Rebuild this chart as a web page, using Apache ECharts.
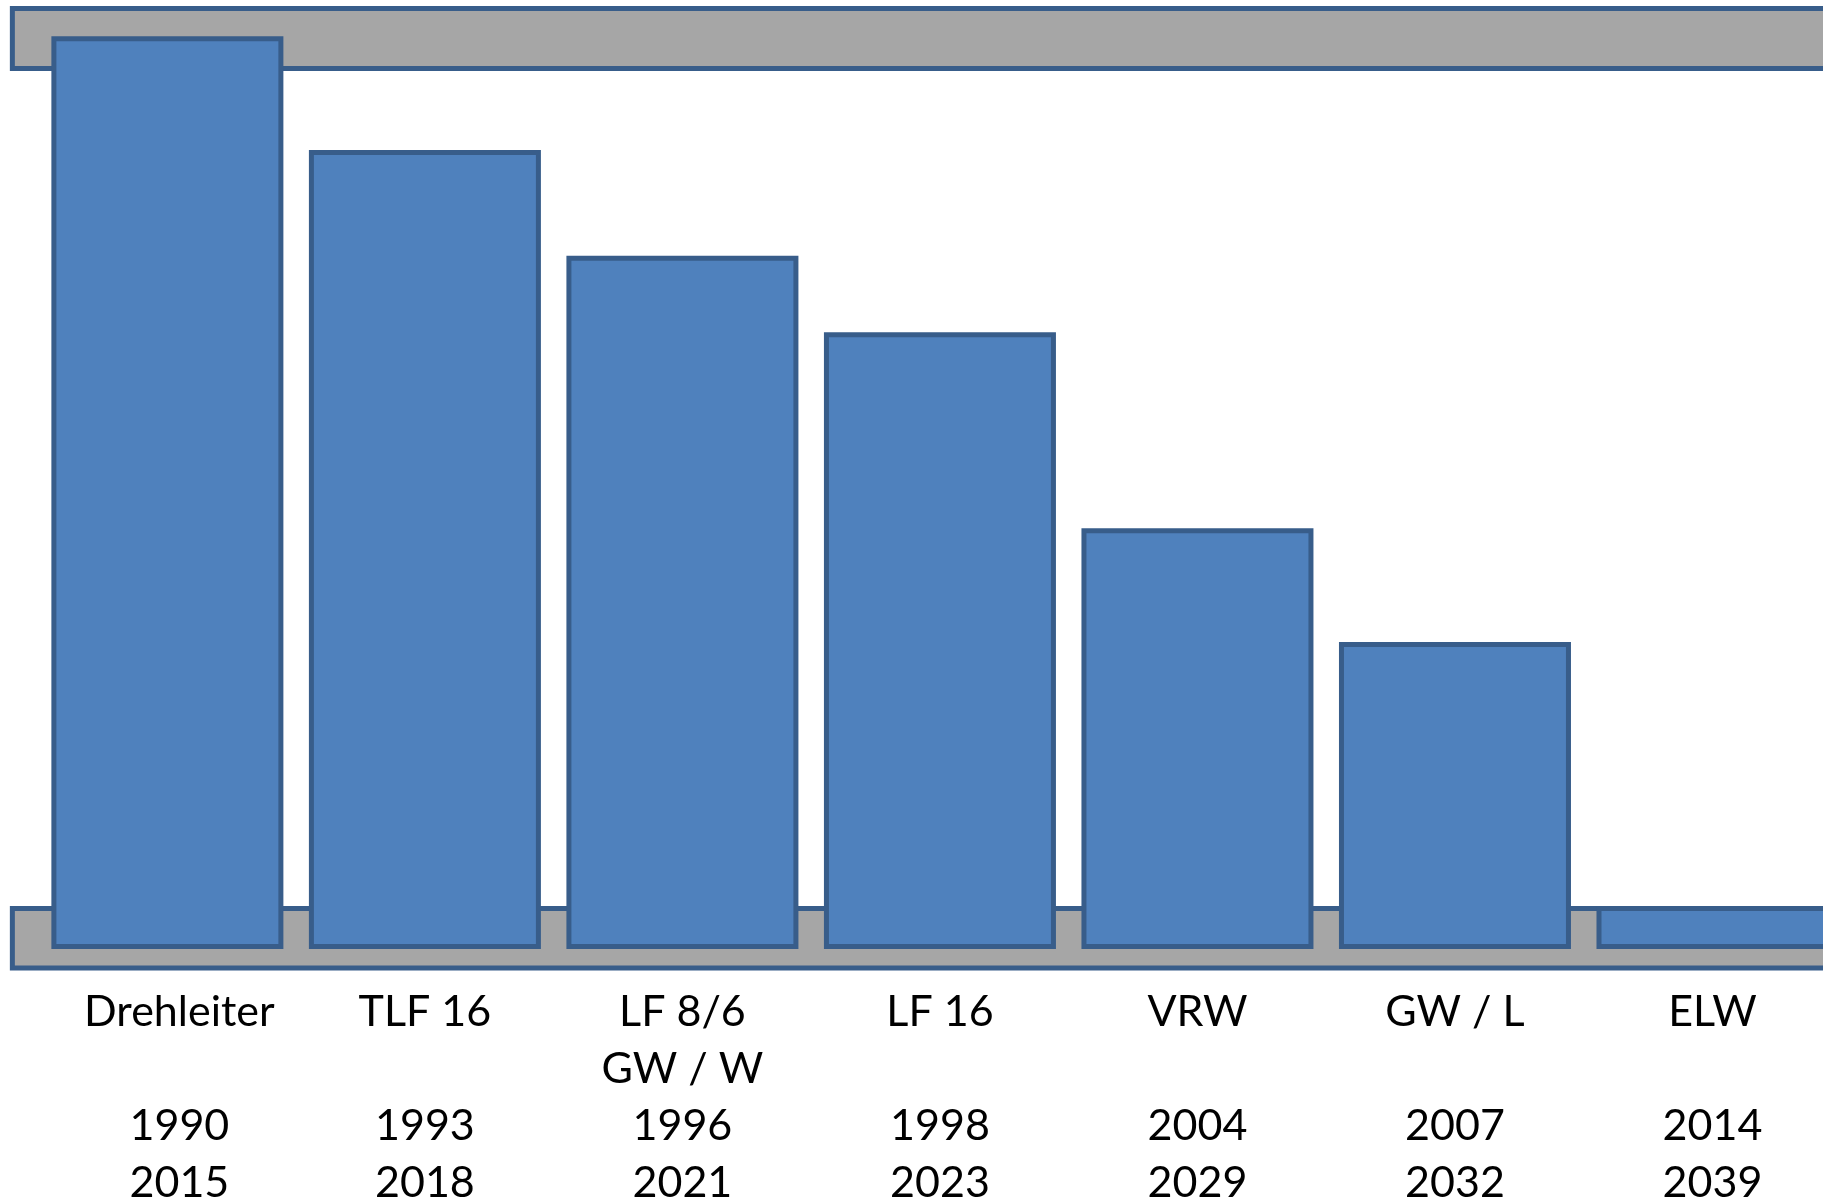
<!DOCTYPE html>
<html>
<head>
<meta charset="utf-8">
<style>
html,body{margin:0;padding:0;background:#fff;overflow:hidden;}
#c{width:1823px;height:1202px;}
</style>
<script src="https://cdn.jsdelivr.net/npm/echarts@6/dist/echarts.min.js"></script>
</head>
<body>
<div id="c"></div>
<script>
// Vehicle names, year built and planned replacement year
var categories = ['Drehleiter', 'TLF 16', 'LF 8/6\nGW / W', 'LF 16', 'VRW', 'GW / L', 'ELW'];
var yearBuilt = [1990, 1993, 1996, 1998, 2004, 2007, 2014];
var yearReplace = [2015, 2018, 2021, 2023, 2029, 2032, 2039];
// Bar heights (age in years)
var values = [25.01, 21.89, 18.99, 16.9, 11.53, 8.41, 1.18];
// Gray bands (value ranges on the vertical axis)
var topBand = [24.12, 25.77];
var bottomBand = [-0.52, 1.11];
var bandX = [-0.602, 6.6];

var positions = categories.map(function (c, i) { return i; });

var chart = echarts.init(document.getElementById('c'));
chart.setOption({
  animation: false,
  backgroundColor: '#ffffff',
  grid: { left: 0, right: -44, top: 0, bottom: 216.5, containLabel: false, outerBoundsMode: 'none' },
  xAxis: {
    type: 'value',
    min: -0.65,
    max: 6.6,
    axisLine: { show: false },
    axisTick: { show: false },
    splitLine: { show: false },
    axisLabel: {
      customValues: positions,
      margin: -2,
      color: '#000000',
      fontFamily: 'Lato',
      fontSize: 43,
      lineHeight: 57,
      align: 'center',
      verticalAlign: 'top',
      hideOverlap: false,
      formatter: function (v) {
        var i = Math.round(v);
        var name = categories[i];
        var lines = name.indexOf('\n') >= 0 ? name.split('\n') : [name, ''];
        lines.push(String(yearBuilt[i]));
        lines.push(String(yearReplace[i]));
        if (i === 0) {
          return lines.map(function (l) { return l ? '{s|' + l + '}' : ''; }).join('\n');
        }
        return lines.join('\n');
      },
      rich: {
        s: { fontFamily: 'Lato', fontSize: 43, lineHeight: 57, color: '#000000', padding: [0, 0, 0, 24] }
      }
    }
  },
  yAxis: {
    type: 'value',
    min: -1,
    max: 26,
    show: false,
    splitLine: { show: false }
  },
  series: [{
    type: 'bar',
    barWidth: 232,
    z: 2,
    data: values.map(function (v, i) { return [i, v]; }),
    itemStyle: { color: '#4f81bd', borderColor: '#385d8a', borderWidth: 5 },
    emphasis: { disabled: true },
    markArea: {
      silent: true,
      z: 1,
      itemStyle: { color: '#a6a6a6', borderColor: '#385d8a', borderWidth: 5, opacity: 1 },
      label: { show: false },
      data: [
        [{ xAxis: bandX[0], yAxis: topBand[1] }, { xAxis: bandX[1], yAxis: topBand[0] }],
        [{ xAxis: bandX[0], yAxis: bottomBand[1] }, { xAxis: bandX[1], yAxis: bottomBand[0] }]
      ]
    }
  }]
});
</script>
</body>
</html>
